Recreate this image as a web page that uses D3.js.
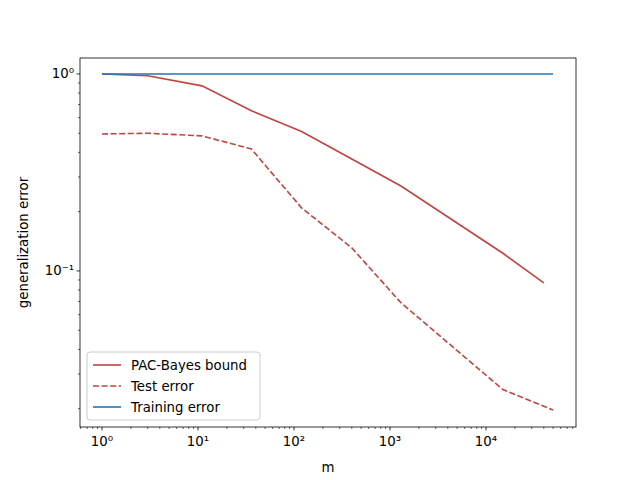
<!DOCTYPE html>
<html><head><meta charset="utf-8">
<script src="https://cdn.jsdelivr.net/npm/d3@7"></script>
<style>body{margin:0;background:#fff}text{font-family:"DejaVu Sans",sans-serif}</style>
</head><body><svg id="c" width="640" height="480"></svg>
<script>
const pacM=[1,3,11,36,120,400,1300,15000,40000];
const pacV=[1.0,0.98,0.87,0.65,0.51,0.37,0.27,0.123,0.087];
const testM=[1,3,11,36,120,400,1300,15000,50000];
const testV=[0.496,0.50,0.485,0.416,0.209,0.131,0.069,0.025,0.0197];
const trainM=[1,50000];
const trainV=[1.0,1.0];
const xTicks=[1,10,100,1000,10000];
const yTicks=[0.1,1];
const svg=d3.select("#c");
const L=80,R=576,T=58,B=427;
const FS=13.3;
const x=d3.scaleLog().domain([Math.pow(10,-0.229),Math.pow(10,4.9375)]).range([L,R]);
const y=d3.scaleLog().domain([Math.pow(10,-1.792),Math.pow(10,0.081)]).range([B,T]);
const sup=["⁰","¹","²","³","⁴"];
const xMinor=[];for(let e=-1;e<5;e++)for(let k=2;k<10;k++){const v=k*Math.pow(10,e);if(v>=x.domain()[0]&&v<=x.domain()[1])xMinor.push(v);}
const yMinor=[];for(let e=-2;e<1;e++)for(let k=2;k<10;k++){const v=k*Math.pow(10,e);if(v>=y.domain()[0]&&v<=y.domain()[1])yMinor.push(v);}
const gx=svg.append("g").attr("transform",`translate(0,${B})`);
gx.selectAll(".mn").data(xMinor).enter().append("line").attr("x1",d=>x(d)).attr("x2",d=>x(d)).attr("y1",0).attr("y2",2).attr("stroke","#000").attr("stroke-width",0.6);
gx.selectAll(".mj").data(xTicks).enter().append("line").attr("x1",d=>x(d)).attr("x2",d=>x(d)).attr("y1",0).attr("y2",3.5).attr("stroke","#000").attr("stroke-width",0.8);
gx.selectAll(".tl").data(xTicks).enter().append("text").attr("x",d=>x(d)).attr("y",19).attr("text-anchor","middle").attr("font-size",FS)
 .text((d,i)=>"10"+sup[i]);
const gy=svg.append("g").attr("transform",`translate(${L},0)`);
gy.selectAll(".mn").data(yMinor).enter().append("line").attr("x1",0).attr("x2",-2).attr("y1",d=>y(d)).attr("y2",d=>y(d)).attr("stroke","#000").attr("stroke-width",0.6);
gy.selectAll(".mj").data(yTicks).enter().append("line").attr("x1",0).attr("x2",-3.5).attr("y1",d=>y(d)).attr("y2",d=>y(d)).attr("stroke","#000").attr("stroke-width",0.8);
gy.selectAll(".tl").data(yTicks).enter().append("text").attr("x",-6).attr("y",d=>y(d)+4.5).attr("text-anchor","end").attr("font-size",FS)
 .text(d=>d===1?"10⁰":"10⁻¹");
svg.append("text").attr("x",(L+R)/2).attr("y",472).attr("text-anchor","middle").attr("font-size",FS).text("m");
svg.append("text").attr("transform",`translate(28,${(T+B)/2}) rotate(-90)`).attr("text-anchor","middle").attr("font-size",FS).text("generalization error");
const line=d3.line().x(d=>x(d[0])).y(d=>y(d[1]));
const red="#c0443f",blue="#1f77b4";
svg.append("path").attr("d",line(pacM.map((m,i)=>[m,pacV[i]]))).attr("fill","none").attr("stroke",red).attr("stroke-width",1.6);
svg.append("path").attr("d",line(testM.map((m,i)=>[m,testV[i]]))).attr("fill","none").attr("stroke",red).attr("stroke-width",1.6).attr("stroke-dasharray","6,2.6");
svg.append("path").attr("d",line(trainM.map((m,i)=>[m,trainV[i]]))).attr("fill","none").attr("stroke",blue).attr("stroke-width",1.6);
svg.append("rect").attr("x",L).attr("y",T).attr("width",R-L).attr("height",B-T).attr("fill","none").attr("stroke","#000").attr("stroke-width",0.8);
const lg=svg.append("g");
lg.append("rect").attr("x",87).attr("y",352).attr("width",173).attr("height",68).attr("rx",3).attr("fill","#fff").attr("fill-opacity",0.8).attr("stroke","#ccc");
const items=[["PAC-Bayes bound",red,null],["Test error",red,"6,2.6"],["Training error",blue,null]];
items.forEach((it,i)=>{const yy=365+i*21;
 lg.append("line").attr("x1",93).attr("x2",121).attr("y1",yy).attr("y2",yy).attr("stroke",it[1]).attr("stroke-width",1.6).attr("stroke-dasharray",it[2]);
 lg.append("text").attr("x",131).attr("y",yy+5).attr("font-size",FS).text(it[0]);});
</script></body></html>
